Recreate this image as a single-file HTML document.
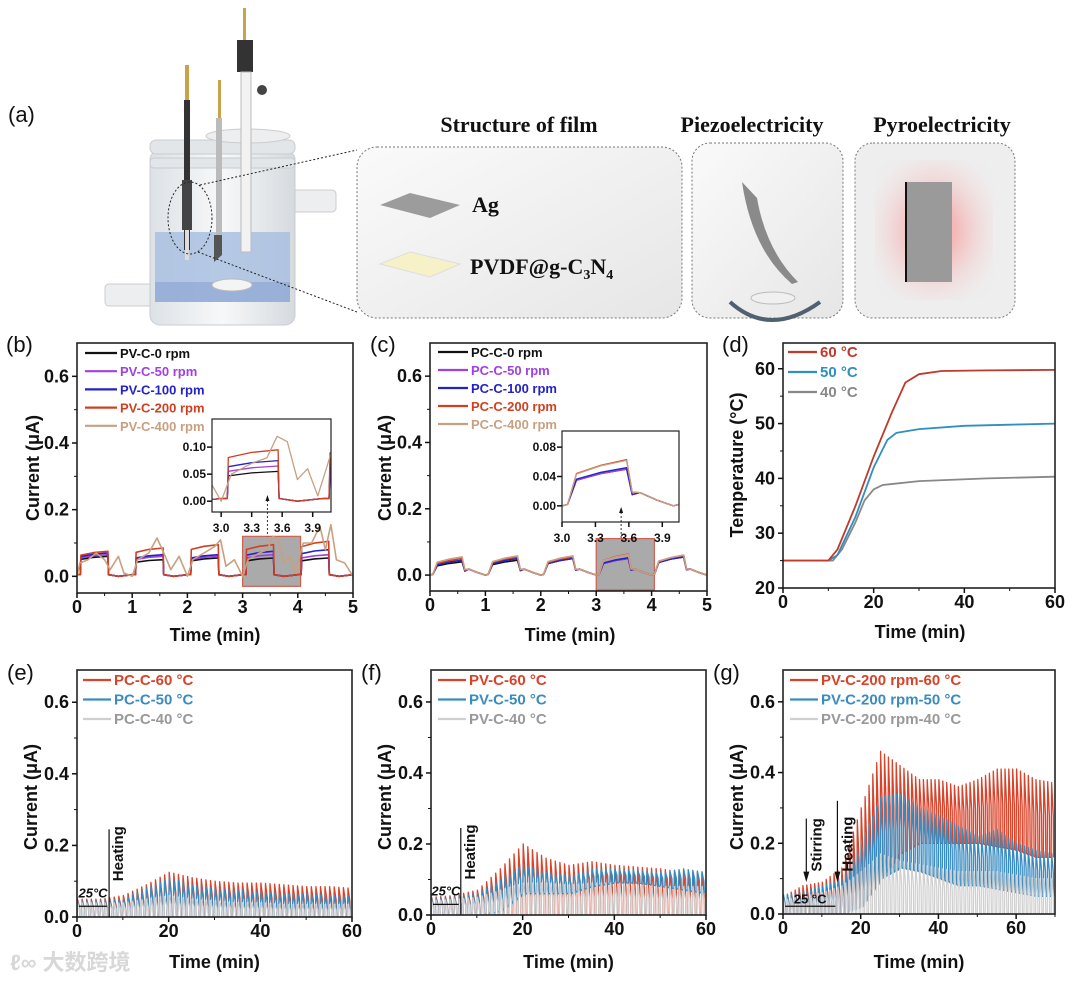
<!DOCTYPE html>
<html><head><meta charset="utf-8">
<style>
html,body{margin:0;padding:0;background:#fff;}
svg{display:block;font-family:"Liberation Sans",Arial,sans-serif;}
.tk{font-weight:bold;font-size:18px;fill:#111;}
.ti{font-weight:bold;font-size:18px;fill:#111;}
.lg{font-weight:bold;font-size:13px;}
.lg2{font-weight:bold;font-size:15px;}
.pl{font-size:22px;fill:#111;}
.it{font-weight:bold;font-size:12px;fill:#111;}
.hd{font-family:"Liberation Serif",serif;font-weight:bold;font-size:22px;fill:#111;}
</style></head>
<body>
<svg id="fig" width="1080" height="981" viewBox="0 0 1080 981" xmlns="http://www.w3.org/2000/svg">
<defs>
<linearGradient id="boxg" x1="0" y1="0" x2="1" y2="1"><stop offset="0" stop-color="#fafafa"/><stop offset="1" stop-color="#e6e6e6"/></linearGradient>
<radialGradient id="pink" cx="0.5" cy="0.5" r="0.6"><stop offset="0.3" stop-color="#f4b8b8"/><stop offset="1" stop-color="#f0eaea" stop-opacity="0.2"/></radialGradient>
<linearGradient id="glass" x1="0" x2="1"><stop offset="0" stop-color="#dde2e6"/><stop offset="0.5" stop-color="#f7f8f9"/><stop offset="1" stop-color="#d5dade"/></linearGradient>
</defs>

<g>
<text x="8" y="122" class="pl">(a)</text>
<rect x="105" y="284" width="50" height="22" rx="4" fill="#eceef0" stroke="#ccc"/>
<rect x="290" y="190" width="46" height="22" rx="4" fill="#eceef0" stroke="#ccc"/>
<rect x="150" y="150" width="145" height="175" rx="10" fill="url(#glass)" stroke="#c8ccd0"/>
<rect x="155" y="232" width="135" height="70" fill="#a9bfe0" opacity="0.85"/>
<rect x="155" y="282" width="135" height="20" fill="#8ea8d4" opacity="0.7"/>
<ellipse cx="232" cy="285" rx="20" ry="6" fill="#f4f4f4" stroke="#bbb"/>
<rect x="150" y="140" width="145" height="14" rx="6" fill="#e3e6e9" stroke="#c8ccd0"/>
<rect x="150" y="158" width="145" height="10" rx="4" fill="#e3e6e9" stroke="#c8ccd0"/>
<ellipse cx="248" cy="136" rx="42" ry="7" fill="#eceeef" stroke="#ccc"/>
<rect x="185" y="65" width="4" height="40" fill="#c9a24a"/><rect x="184" y="100" width="6" height="150" fill="#333"/><rect x="182" y="180" width="10" height="50" fill="#444"/><rect x="185" y="230" width="4" height="30" fill="#ddd"/>
<rect x="218" y="80" width="3" height="40" fill="#c9a24a"/><rect x="216" y="118" width="6" height="130" fill="#bbb"/><polygon points="214,235 222,235 222,255 214,262" fill="#555"/>
<rect x="243" y="8" width="3" height="35" fill="#c9a24a"/><rect x="237" y="40" width="16" height="32" fill="#333"/><rect x="241" y="72" width="10" height="180" fill="#f2f2f2" stroke="#bbb"/><circle cx="262" cy="90" r="5" fill="#444"/>
<ellipse cx="190" cy="218" rx="22" ry="36" fill="none" stroke="#222" stroke-dasharray="2,2"/>
<line x1="200" y1="185" x2="357" y2="150" stroke="#222" stroke-dasharray="2,2"/>
<line x1="198" y1="252" x2="357" y2="312" stroke="#222" stroke-dasharray="2,2"/>
<rect x="357" y="147" width="325" height="171" rx="20" fill="url(#boxg)" stroke="#777" stroke-dasharray="2,2"/>
<text x="519" y="132" text-anchor="middle" class="hd">Structure of film</text>
<polygon points="380,205 410,193 460,205 430,218" fill="#9c9c9c"/>
<text x="472" y="212" class="hd">Ag</text>
<polygon points="380,264 410,252 460,264 430,277" fill="#f7f1c8" stroke="#ddd"/>
<text x="470" y="274" class="hd">PVDF@g-C<tspan font-size="14" dy="5">3</tspan><tspan dy="-5">N</tspan><tspan font-size="14" dy="5">4</tspan></text>
<rect x="692" y="143" width="151" height="175" rx="18" fill="url(#boxg)" stroke="#777" stroke-dasharray="2,2"/>
<text x="752" y="132" text-anchor="middle" class="hd">Piezoelectricity</text>
<path d="M742,182 L757,198 Q766,250 798,282 L792,284 Q752,250 742,182 Z" fill="#8a8a8a"/>
<ellipse cx="773" cy="298" rx="22" ry="6" fill="#f0f0f0" stroke="#bbb"/>
<path d="M730,302 Q770,338 820,302" fill="none" stroke="#506070" stroke-width="4"/>
<rect x="855" y="143" width="160" height="175" rx="18" fill="#eee" stroke="#777" stroke-dasharray="2,2"/>
<rect x="875" y="160" width="118" height="140" rx="20" fill="url(#pink)"/>
<text x="942" y="132" text-anchor="middle" class="hd">Pyroelectricity</text>
<rect x="905" y="182" width="47" height="100" fill="#9a9a9a"/>
<line x1="906" y1="182" x2="906" y2="282" stroke="#111" stroke-width="2"/>
</g>

<text x="10" y="970" font-size="22" fill="#d8d8d8" font-family="'Liberation Sans','Noto Sans CJK SC',sans-serif" font-weight="bold">ℓ∞ 大数跨境</text>
<g id="plots"></g>
</svg>
<script>
// ===== Data =====
const bCycles=[0,1,2,3,4];
const bBlack=[0.06,0.05,0.055,0.055,0.055];
const bPurple=[0.065,0.06,0.06,0.065,0.065];
const bBlue=[0.07,0.065,0.065,0.075,0.08];
const bRed=[0.075,0.085,0.095,0.095,0.105];
const bTanT=[0,0.05,0.2,0.35,0.5,0.6,0.75,0.85,1.0,1.1,1.3,1.45,1.6,1.7,1.85,2.0,2.1,2.3,2.5,2.6,2.7,2.85,3.0,3.1,3.3,3.45,3.55,3.65,3.75,3.85,3.95,4.1,4.25,4.4,4.5,4.6,4.7,4.85,5.0];
const bTanV=[0,0.04,0.05,0.07,0.05,0.02,0.06,0.01,0.0,0.05,0.07,0.115,0.06,0.02,0.06,0.0,0.05,0.07,0.09,0.11,0.03,0.05,0.0,0.05,0.07,0.08,0.12,0.11,0.04,0.06,0.01,0.1,0.1,0.15,0.08,0.155,0.05,0.04,0.0];
const cCycles=[0,1,2,3,4];
const cBlack=[0.04,0.045,0.05,0.05,0.055];
const cPurple=[0.045,0.05,0.05,0.05,0.055];
const cBlue=[0.045,0.05,0.05,0.052,0.055];
const cRed=[0.05,0.055,0.055,0.063,0.06];
const cTan=[0.055,0.058,0.058,0.062,0.06];
const d60T=[0,10,12,16,20,24,27,30,35,45,60]; const d60V=[25,25,27,35,44,52,57.5,59,59.6,59.7,59.8];
const d50T=[0,10,12,16,20,23,25,30,40,50,60]; const d50V=[25,25,26,33,42,47,48.3,49,49.6,49.8,50];
const d40T=[0,11,13,16,18,20,22,30,45,60]; const d40V=[25,25,27,32,36,38,38.8,39.5,40,40.3];
const eRed=[0.05,0.05,0.06,0.09,0.125,0.11,0.10,0.095,0.095,0.09,0.085,0.085,0.08];
const eBlue=[0.045,0.045,0.05,0.08,0.11,0.09,0.08,0.075,0.07,0.065,0.065,0.06,0.06];
const eGrey=[0.04,0.04,0.04,0.05,0.06,0.05,0.045,0.04,0.04,0.035,0.035,0.035,0.035];
const fRed=[0.05,0.055,0.07,0.13,0.2,0.16,0.14,0.15,0.14,0.135,0.13,0.12,0.12];
const fBlue=[0.045,0.05,0.06,0.1,0.14,0.12,0.11,0.13,0.13,0.125,0.12,0.13,0.12];
const fGrey=[0.04,0.045,0.05,0.07,0.09,0.09,0.085,0.09,0.09,0.085,0.08,0.08,0.08];
const fBlueTrough=[0,0,0,0.01,0.06,0.06,0.06,0.08,0.09,0.09,0.08,0.07,0.06];
const gRed=[0.05,0.08,0.09,0.13,0.3,0.46,0.42,0.38,0.38,0.36,0.38,0.41,0.41,0.38,0.37];
const gRedTrough=[0,0,0,0,0.02,0.1,0.17,0.2,0.2,0.2,0.2,0.19,0.18,0.16,0.16];
const gBlue=[0.055,0.06,0.08,0.1,0.2,0.33,0.34,0.3,0.28,0.25,0.22,0.24,0.2,0.18,0.17];
const gBlueTrough=[0,0,0,0,0.02,0.1,0.13,0.12,0.1,0.08,0.08,0.07,0.06,0.05,0.05];
const gGrey=[0.04,0.05,0.06,0.08,0.12,0.17,0.15,0.14,0.13,0.12,0.12,0.12,0.11,0.10,0.10];

const NS='http://www.w3.org/2000/svg';
const root=document.getElementById('plots');
function el(tag,attrs,parent){const e=document.createElementNS(NS,tag);for(const k in attrs)e.setAttribute(k,attrs[k]);(parent||root).appendChild(e);return e;}
function txt(s,attrs,parent){const e=el('text',attrs,parent);e.textContent=s;return e;}
function axes(o){return {sx:v=>o.L+(v-o.xmin)/(o.xmax-o.xmin)*(o.R-o.L),sy:v=>o.B-(v-o.ymin)/(o.ymax-o.ymin)*(o.B-o.T),o:o};}
function frame(A,g,xt,xminor,yt,ylab,yminor,xfmt,big){
  const o=A.o;
  xt.forEach(v=>{el('line',{x1:A.sx(v),x2:A.sx(v),y1:o.B,y2:o.B+5,stroke:'#111','stroke-width':1.5},g);
    txt(xfmt?v.toFixed(xfmt):String(v),{x:A.sx(v),y:o.B+20,'text-anchor':'middle',class:big?'tk':'it'},g);});
  xminor.forEach(v=>el('line',{x1:A.sx(v),x2:A.sx(v),y1:o.B,y2:o.B+3,stroke:'#111','stroke-width':1},g));
  yt.forEach((v,i)=>{el('line',{x1:o.L-5,x2:o.L,y1:A.sy(v),y2:A.sy(v),stroke:'#111','stroke-width':1.5},g);
    txt(ylab[i],{x:o.L-(big?8:6),y:A.sy(v)+(big?6:4),'text-anchor':'end',class:big?'tk':'it'},g);});
  yminor.forEach(v=>el('line',{x1:o.L-3,x2:o.L,y1:A.sy(v),y2:A.sy(v),stroke:'#111','stroke-width':1},g));
}
function box(A,g,w){const o=A.o;el('rect',{x:o.L,y:o.T,width:o.R-o.L,height:o.B-o.T,fill:'none',stroke:'#222','stroke-width':w||1.6},g);}
function clipFor(A,id){const o=A.o;const c=el('clipPath',{id:id});el('rect',{x:o.L,y:o.T,width:o.R-o.L,height:o.B-o.T},c);return 'url(#'+id+')';}
function line(A,ts,vs,color,g,w){const d=ts.map((t,i)=>(i?'L':'M')+A.sx(t).toFixed(1)+','+A.sy(vs[i]).toFixed(1)).join('');return el('path',{d:d,fill:'none',stroke:color,'stroke-width':w||1.6,'stroke-linejoin':'round'},g);}
function squareWave(cycles,amps){const ts=[],vs=[];cycles.forEach((k,i)=>{const a=amps[i];ts.push(k,k+0.06,k+0.07,k+0.3,k+0.56,k+0.57,k+0.75,k+1.0);vs.push(0.005,0.005,a*0.85,a*0.95,a,0.005,0.0,0.005);});return [ts,vs];}
function riseWave(cycles,amps){const ts=[],vs=[];cycles.forEach((k,i)=>{const a=amps[i];ts.push(k,k+0.05,k+0.13,k+0.35,k+0.58,k+0.63,k+0.7,k+0.85,k+1.0);vs.push(0.0,0.002,a*0.7,a*0.88,a,a*0.3,0.018,0.008,0.0);});return [ts,vs];}
function envAt(env,t){const f=t/5;const i=Math.min(env.length-2,Math.floor(f));const r=Math.min(1,f-i);return env[i]*(1-r)+env[i+1]*r;}
function spikes(A,env,trough,xmax,color,g,w){let d='';for(let t=0;t<xmax;t+=1){const p=envAt(env,t);const tr=trough?envAt(trough,t):0;
  d+=(t?'L':'M')+A.sx(t).toFixed(1)+','+A.sy(tr).toFixed(1)+'L'+A.sx(t+0.12).toFixed(1)+','+A.sy(p).toFixed(1)+'L'+A.sx(t+0.55).toFixed(1)+','+A.sy(tr+(p-tr)*0.55).toFixed(1)+'L'+A.sx(t+0.62).toFixed(1)+','+A.sy(tr).toFixed(1);}
  return el('path',{d:d,fill:'none',stroke:color,'stroke-width':w||1.2,'stroke-linejoin':'round'},g);}
function legend(g,items,x,y0,dy,len,cls){items.forEach((it,i)=>{const y=y0+i*dy;el('line',{x1:x,x2:x+len,y1:y,y2:y,stroke:it[1],'stroke-width':2.2},g);const t=txt(it[0],{x:x+len+3,y:y+5,class:cls,fill:it[2]||it[1]},g);});}

const yC=[0,0.2,0.4,0.6], yCL=['0.0','0.2','0.4','0.6'], yCm=[0.1,0.3,0.5];

(function(){
const g=el('g',{});
const A=axes({L:77,R:353,T:343,B:593,xmin:0,xmax:5,ymin:-0.05,ymax:0.70});
const cp=clipFor(A,'cb');
el('rect',{x:A.sx(3.0),y:A.sy(0.12),width:A.sx(4.05)-A.sx(3.0),height:A.sy(-0.03)-A.sy(0.12),fill:'#aaa',stroke:'#d06050','stroke-width':1.2},g);
const s=el('g',{'clip-path':cp},g);
let w;
w=squareWave(bCycles,bBlack);line(A,w[0],w[1],'#111',s);
w=squareWave(bCycles,bPurple);line(A,w[0],w[1],'#a040e0',s);
w=squareWave(bCycles,bBlue);line(A,w[0],w[1],'#2222c8',s);
w=squareWave(bCycles,bRed);line(A,w[0],w[1],'#d04020',s);
line(A,bTanT,bTanV,'#c8a080',s);
box(A,g);
frame(A,g,[0,1,2,3,4,5],[0.5,1.5,2.5,3.5,4.5],yC,yCL,yCm,0,true);
txt('Time (min)',{x:215,y:641,'text-anchor':'middle',class:'ti'},g);
txt('Current (μA)',{x:0,y:0,'text-anchor':'middle',class:'ti',transform:'translate(39,468) rotate(-90)'},g);
txt('(b)',{x:6,y:352,class:'pl'},g);
legend(g,[['PV-C-0 rpm','#111'],['PV-C-50 rpm','#a040e0'],['PV-C-100 rpm','#2222c8'],['PV-C-200 rpm','#d04020'],['PV-C-400 rpm','#c8a080']],85,353,18.2,32,'lg');
const I=axes({L:212,R:331,T:419,B:512,xmin:2.91,xmax:4.08,ymin:-0.02,ymax:0.152});
el('rect',{x:212,y:419,width:119,height:93,fill:'#fff'},g);
el('line',{x1:A.sx(3.45),x2:A.sx(3.45),y1:500,y2:A.sy(0.12),stroke:'#333','stroke-dasharray':'2,2'},g);
el('polygon',{points:(A.sx(3.45)-2)+',501 '+(A.sx(3.45)+2)+',501 '+A.sx(3.45)+',495',fill:'#111'},g);
const si=el('g',{'clip-path':clipFor(I,'cbi')},g);
[[bBlack,'#111'],[bPurple,'#a040e0'],[bBlue,'#2222c8'],[bRed,'#d04020']].forEach(p=>{const ww=squareWave(bCycles,p[0]);line(I,ww[0],ww[1],p[1],si,1.3);});
line(I,bTanT,bTanV,'#c8a080',si,1.3);
box(I,g,1.2);
frame(I,g,[3.0,3.3,3.6,3.9],[],[0,0.05,0.1],['0.00','0.05','0.10'],[],1,false);
})();

(function(){
const g=el('g',{});
const A=axes({L:430,R:707,T:343,B:591,xmin:0,xmax:5,ymin:-0.048,ymax:0.70});
const cp=clipFor(A,'cc');
el('rect',{x:A.sx(3.0),y:A.sy(0.11),width:A.sx(4.05)-A.sx(3.0),height:A.sy(-0.045)-A.sy(0.11),fill:'#aaa',stroke:'#d06050','stroke-width':1.2},g);
const s=el('g',{'clip-path':cp},g);
const ser=[[cBlack,'#111','series-0rpm'],[cPurple,'#a040e0','series-50rpm'],[cBlue,'#2222c8','series-100rpm'],[cRed,'#d04020','series-200rpm'],[cTan,'#c8a080','series-400rpm']];
ser.forEach(p=>{const w=riseWave(cCycles,p[0]);line(A,w[0],w[1],p[1],s);});
box(A,g);
frame(A,g,[0,1,2,3,4,5],[0.5,1.5,2.5,3.5,4.5],yC,yCL,yCm,0,true);
txt('Time (min)',{x:570,y:641,'text-anchor':'middle',class:'ti'},g);
txt('Current (μA)',{x:0,y:0,'text-anchor':'middle',class:'ti',transform:'translate(391,468) rotate(-90)'},g);
txt('(c)',{x:370,y:352,class:'pl'},g);
legend(g,[['PC-C-0 rpm','#111'],['PC-C-50 rpm','#a040e0'],['PC-C-100 rpm','#2222c8'],['PC-C-200 rpm','#d04020'],['PC-C-400 rpm','#c8a080']],438,352,18,30,'lg');
const I=axes({L:562,R:679,T:431,B:522,xmin:3.0,xmax:4.05,ymin:-0.022,ymax:0.102});
el('rect',{x:562,y:431,width:117,height:91,fill:'#fff'},g);
el('line',{x1:A.sx(3.45),x2:A.sx(3.45),y1:512,y2:A.sy(0.11),stroke:'#333','stroke-dasharray':'2,2'},g);
el('polygon',{points:(A.sx(3.45)-2)+',513 '+(A.sx(3.45)+2)+',513 '+A.sx(3.45)+',507',fill:'#111'},g);
const si=el('g',{'clip-path':clipFor(I,'cci')},g);
ser.forEach(p=>{const w=riseWave(cCycles,p[0]);line(I,w[0],w[1],p[1],si,1.3);});
box(I,g,1.2);
frame(I,g,[3.0,3.3,3.6,3.9],[],[0,0.04,0.08],['0.00','0.04','0.08'],[],1,false);
})();

(function(){
const g=el('g',{});
const A=axes({L:783,R:1055,T:343,B:588,xmin:0,xmax:60,ymin:20,ymax:64.7});
const s=el('g',{'clip-path':clipFor(A,'cd')},g);
line(A,d40T,d40V,'#888',s,1.8);
line(A,d50T,d50V,'#2e8fc0',s,1.8);
line(A,d60T,d60V,'#c0392b',s,1.8);
box(A,g);
frame(A,g,[0,20,40,60],[10,30,50],[20,30,40,50,60],['20','30','40','50','60'],[25,35,45,55],0,true);
txt('Time (min)',{x:920,y:638,'text-anchor':'middle',class:'ti'},g);
txt('Temperature (°C)',{x:0,y:0,'text-anchor':'middle',class:'ti',transform:'translate(743,465) rotate(-90)'},g);
txt('(d)',{x:722,y:352,class:'pl'},g);
legend(g,[['60 °C','#c0392b'],['50 °C','#2e8fc0'],['40 °C','#888']],788,352,20,29,'lg2');
})();

function bottom(name,label,L,R,B,xmax,reds,blues,greys,bTr,rTr,names,lx,annot){
const g=el('g',{});
const A=axes({L:L,R:R,T:670,B:B,xmin:0,xmax:xmax,ymin:0,ymax:0.69});
const s=el('g',{'clip-path':clipFor(A,'c'+name)},g);
spikes(A,reds,rTr,xmax,'#d9432a',s,1.3);
spikes(A,blues,bTr,xmax,'#3a8cc0',s,1.3);
spikes(A,greys,null,xmax,'#cfcfcf',s,1.2);
box(A,g);
const xm=xmax==70?[10,30,50,70]:[10,30,50];
frame(A,g,[0,20,40,60],xm,yC,yCL,yCm,0,true);
txt('Time (min)',{x:(L+R)/2,y:968,'text-anchor':'middle',class:'ti'},g);
txt('Current (μA)',{x:0,y:0,'text-anchor':'middle',class:'ti',transform:'translate('+(L-40)+',797) rotate(-90)'},g);
txt(label,{x:L-70,y:680,class:'pl'},g);
legend(g,[[names[0],'#d9432a'],[names[1],'#3a8cc0'],[names[2],'#cfcfcf','#999']],lx,680,19.5,28,'lg2');
annot(A,g);
}
function heatAnn(tH){return function(A,g){
 el('line',{x1:A.sx(tH),x2:A.sx(tH),y1:A.sy(0),y2:A.sy(0.245),stroke:'#111','stroke-width':1.2},g);
 txt('Heating',{x:0,y:0,class:'lg2',fill:'#111',transform:'translate('+(A.sx(tH)+14)+','+A.sy(0.1)+') rotate(-90)'},g);
 el('line',{x1:A.sx(0)+2,x2:A.sx(tH)-2,y1:A.sy(0.03),y2:A.sy(0.03),stroke:'#111','stroke-width':1.2},g);
 txt('25°C',{x:A.sx(tH/2),y:A.sy(0.055),'text-anchor':'middle','font-style':'italic','font-weight':'bold','font-size':'13',fill:'#111'},g);
};}
bottom('panel-e','(e)',77,352,917,60,eRed,eBlue,eGrey,null,null,['PC-C-60 °C','PC-C-50 °C','PC-C-40 °C'],83,heatAnn(7));
bottom('panel-f','(f)',431,706,915,60,fRed,fBlue,fGrey,fBlueTrough,null,['PV-C-60 °C','PV-C-50 °C','PV-C-40 °C'],438,heatAnn(6.5));
bottom('panel-g','(g)',783,1055,914,70,gRed,gBlue,gGrey,gBlueTrough,gRedTrough,['PV-C-200 rpm-60 °C','PV-C-200 rpm-50 °C','PV-C-200 rpm-40 °C'],790,function(A,g){
 [[6,0.27,'Stirring'],[14,0.32,'Heating']].forEach(a=>{el('line',{x1:A.sx(a[0]),x2:A.sx(a[0]),y1:A.sy(a[1]),y2:A.sy(0.1),stroke:'#111','stroke-width':1.2},g);
  el('polygon',{points:(A.sx(a[0])-3)+','+(A.sy(0.1)-7)+' '+(A.sx(a[0])+3)+','+(A.sy(0.1)-7)+' '+A.sx(a[0])+','+A.sy(0.09),fill:'#111'},g);
  txt(a[2],{x:0,y:0,class:'lg2',fill:'#111',transform:'translate('+(A.sx(a[0])+15)+','+A.sy(0.12)+') rotate(-90)'},g);});
 el('line',{x1:A.sx(0)+2,x2:A.sx(14)-2,y1:A.sy(0.022),y2:A.sy(0.022),stroke:'#111','stroke-width':1.2},g);
 txt('25 °C',{x:A.sx(7),y:A.sy(0.03),'text-anchor':'middle','font-weight':'bold','font-size':'13',fill:'#111'},g);
});
</script>
</body></html>
